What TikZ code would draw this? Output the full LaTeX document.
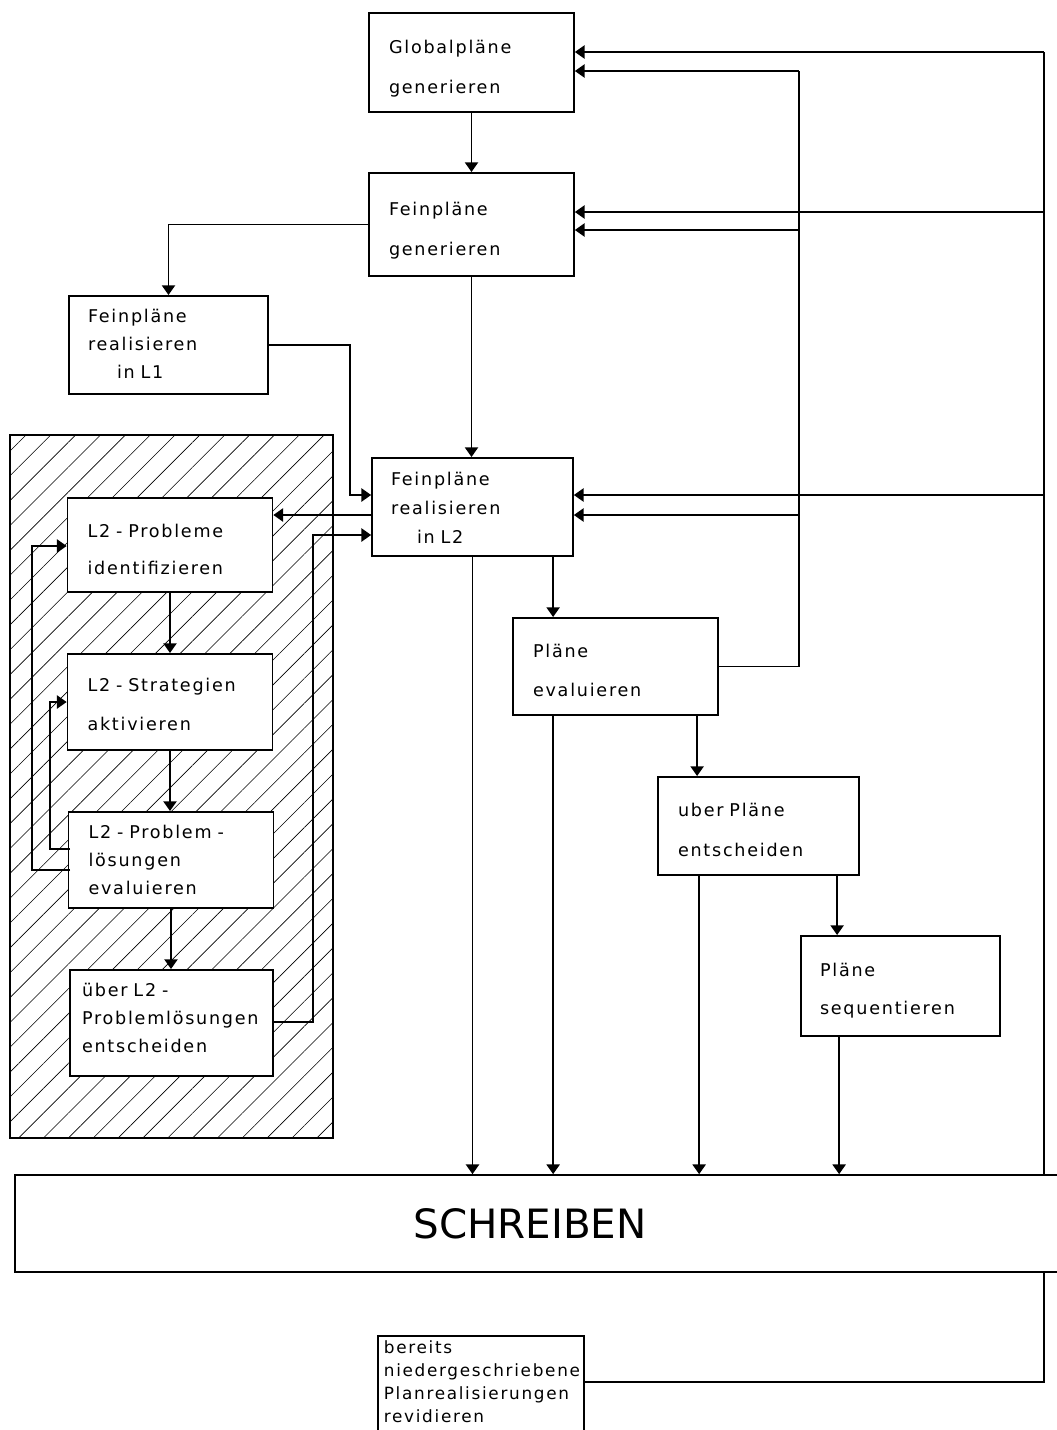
\documentclass[tikz,border=0pt]{standalone}
\usepackage{fontspec}
\usepackage{tikz}
\usetikzlibrary{arrows.meta,patterns.meta}
\newfontfamily\plantxt[LetterSpace=10]{DejaVu Sans}
\newfontfamily\bigtxt{DejaVu Sans}

\tikzset{
  planbox/.style={draw, line width=1pt, fill=white, align=left, anchor=north,
    inner ysep=0pt, text width=3.3cm, inner xsep=0.4cm, font=\plantxt},
  hd/.style 2 args={text height=#1, text depth=#2},
  arr/.style={-{Triangle[width=7.5pt,length=5.5pt]}, line width=0.9pt},
  link/.style={line width=0.9pt}
}

\begin{document}
\begin{tikzpicture}[x=0.02cm, y=-0.02cm]
    \useasboundingbox (0,0) rectangle (1057,1430);

    % hatched field
    \draw [line width=0.8pt, pattern={Lines[angle=45,distance=10pt,line width=0.35pt]}]
      (10,435) rectangle (333,1138);

    % planning column
    \node[planbox, hd={0.82cm}{1.16cm}](glob) at (471.5,12){Globalpläne\\[10.5pt]generieren};
    \node[planbox, hd={0.86cm}{1.2cm}](feingen) at (471.5,172){Feinpläne\\[10.8pt]generieren};
    \node[planbox, hd={0.54cm}{1.42cm}, inner xsep=0.38cm, text width=3.22cm](feinlone)
      at (168.5,295){Feinpläne\\[3.9pt]realisieren\\[3.9pt]\hspace*{0.58cm}in L1};
    \node[planbox, hd={0.56cm}{1.4cm}, inner xsep=0.38cm, text width=3.26cm](feinltwo)
      at (472.5,457){Feinpläne\\[4.5pt]realisieren\\[4.5pt]\hspace*{0.52cm}in L2};

    % L2 problem solving
    \node[planbox, hd={0.79cm}{1.09cm}](probid) at (170,497){L2 - Probleme\\[9.4pt]identifizieren};
    \node[planbox, hd={0.76cm}{1.16cm}](strat) at (170,653){L2 - Strategien\\[10.2pt]aktivieren};
    \node[planbox, hd={0.54cm}{1.38cm}](loesev)
      at (171,811){L2 - Problem -\\[3.9pt]lösungen\\[3.9pt]evaluieren};
    \node[planbox, hd={0.54cm}{1.58cm}, inner xsep=0.24cm, text width=3.58cm](loesent)
      at (171.5,969){über L2 -\\[3.9pt]Problemlösungen\\[3.9pt]entscheiden};

    % evaluating and deciding
    \node[planbox, hd={0.8cm}{1.14cm}, text width=3.3cm](planev) at (615.5,617){Pläne\\[10.2pt]evaluieren};
    \node[planbox, hd={0.8cm}{1.16cm}, text width=3.22cm](planent) at (758.5,776){uber Pläne\\[10.8pt]entscheiden};
    \node[planbox, hd={0.82cm}{1.18cm}, inner xsep=0.38cm, text width=3.22cm](planseq)
      at (900.5,935){Pläne\\[9.6pt]sequentieren};

    % writing
    \node[draw, line width=1pt, minimum width=21.1cm, minimum height=1.94cm,
      font=\bigtxt\fontsize{23}{28}\selectfont](schreib) at (542.5,1223.5){\hspace*{-0.5cm}SCHREIBEN};
    \node[planbox, anchor=north west, hd={0.36cm}{2cm}, inner xsep=0.12cm, text width=3.88cm,
      font=\plantxt\fontsize{9.6}{13.1}\selectfont](revid)
      at (377,1335){bereits\\niedergeschriebene\\Planrealisierungen\\revidieren};

    % bends and feedback lines
    \coordinate (oa) at (1044,52);
    \coordinate (ob) at (1044,212);
    \coordinate (oc) at (1044,495);
    \coordinate (ia) at (799,71);
    \coordinate (ib) at (799,230);
    \coordinate (ic) at (799,515);
    \coordinate (lonebend) at (350,495);
    \coordinate (probout) at (372,515);
    \coordinate (rloop) at (313,535);
    \coordinate (rstart) at (273,1022);
    \coordinate (lloop) at (32,546);
    \coordinate (lstart) at (70,870);
    \coordinate (sloop) at (50,702);
    \coordinate (sstart) at (70,849);

    % top-down arrows
    \draw[arr] (glob.south) -- (glob.south |- feingen.north);
    \draw[arr] (feingen.west) -| (feinlone.north);
    \draw[arr] (feingen.south) -- (feingen.south |- feinltwo.north);
    \draw[arr] (feinlone.east) -| (lonebend) -- (lonebend -| feinltwo.west);
    \draw[arr] ([xshift=3.64cm]feinltwo.south west) -- ([xshift=3.64cm]feinltwo.south west |- planev.north);
    \draw[arr] ([xshift=3.7cm]planev.south west) -- ([xshift=3.7cm]planev.south west |- planent.north);
    \draw[arr] ([xshift=3.6cm]planent.south west) -- ([xshift=3.6cm]planent.south west |- planseq.north);

    % into SCHREIBEN
    \draw[arr] (feinltwo.south) -- (feinltwo.south |- schreib.north);
    \draw[arr] ([xshift=0.82cm]planev.south west) -- ([xshift=0.82cm]planev.south west |- schreib.north);
    \draw[arr] ([xshift=0.84cm]planent.south west) -- ([xshift=0.84cm]planent.south west |- schreib.north);
    \draw[arr] ([xshift=0.78cm]planseq.south west) -- ([xshift=0.78cm]planseq.south west |- schreib.north);

    % L2 loop
    \draw[arr] (probout) -- (probout -| probid.east);
    \draw[arr] (probid.south) -- (probid.south |- strat.north);
    \draw[arr] (strat.south) -- (strat.south |- loesev.north);
    \draw[arr] (loesev.south) -- (loesev.south |- loesent.north);
    \draw[arr] (rstart) -| (rloop) -- (rloop -| feinltwo.west);
    \draw[arr] (lstart) -| (lloop) -- (lloop -| probid.west);
    \draw[arr] (sstart) -| (sloop) -- (sloop -| strat.west);

    % back to the plans
    \draw[link] (planev.east) -| (ia);
    \draw[link] (schreib.north -| oa) -- (oa);
    \draw[link] ([yshift=-0.94cm]revid.north east) -| (schreib.south -| oa);
    \draw[arr] (oa) -- (oa -| glob.east);
    \draw[arr] (ia) -- (ia -| glob.east);
    \draw[arr] (ob) -- (ob -| feingen.east);
    \draw[arr] (ib) -- (ib -| feingen.east);
    \draw[arr] (oc) -- (oc -| feinltwo.east);
    \draw[arr] (ic) -- (ic -| feinltwo.east);
\end{tikzpicture}
\end{document}
